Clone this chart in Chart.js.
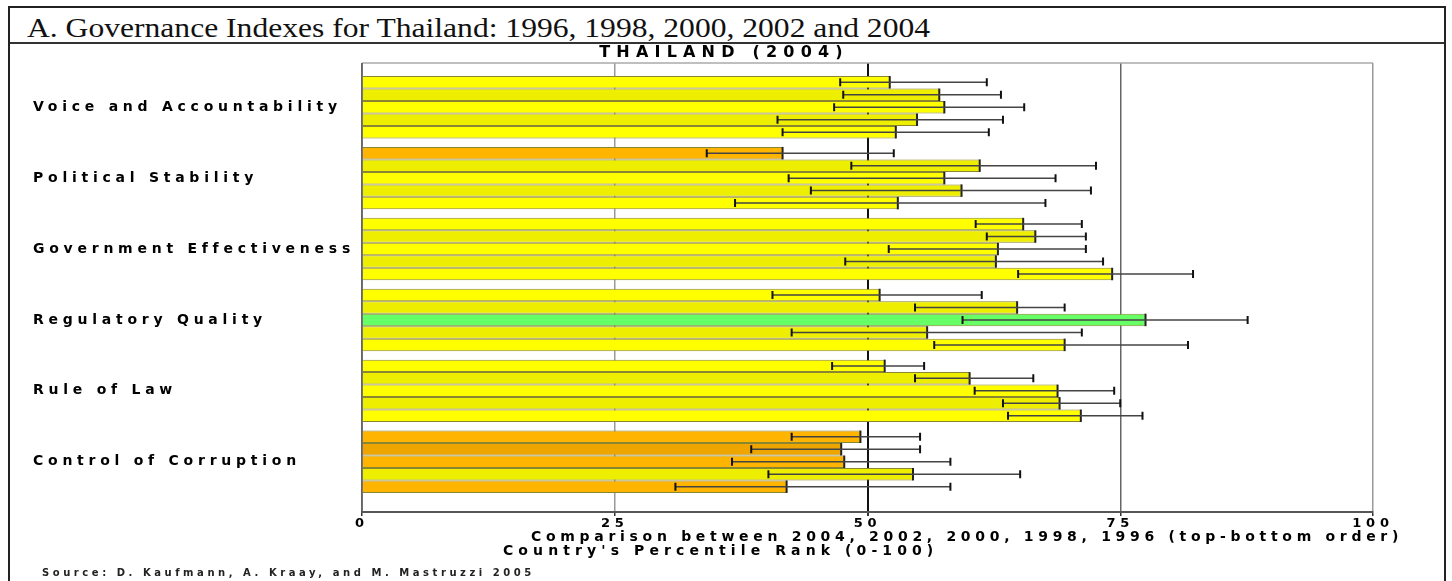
<!DOCTYPE html>
<html>
<head>
<meta charset="utf-8">
<script src="https://cdn.jsdelivr.net/npm/chart.js@4.4.1/dist/chart.umd.min.js"></script>
<style>
  body { margin: 0; background: #fff; width: 1452px; height: 581px; overflow: hidden; position: relative; }
  #frame { position: absolute; left: 8px; top: 6px; width: 1434px; height: 600px;
           border: 2px solid #222; border-bottom: none; }
  #head { position: absolute; left: 0; top: 0; width: 100%; height: 34px; border-bottom: 2px solid #333; }
  #head span { position: absolute; left: 17px; top: 5px; font-family: "Liberation Serif", serif;
               font-size: 27px; line-height: 30px; color: #111; white-space: nowrap;
               transform: scaleX(1.17); transform-origin: 0 0; }
  #myChart { position: absolute; left: 10px; top: 43px; }
</style>
</head>
<body>
<div id="frame"><div id="head"><span>A. Governance Indexes for Thailand: 1996, 1998, 2000, 2002 and 2004</span></div></div>
<canvas id="myChart" width="1432" height="538"></canvas>
<script>
var categories = ["Voice and Accountability", "Political Stability", "Government Effectiveness",
                  "Regulatory Quality", "Rule of Law", "Control of Corruption"];
var years = ["2004", "2002", "2000", "1998", "1996"];
var xTicks = [0, 25, 50, 75, 100];

// percentile rank, per year, one value per category
var rank2004 = [52.2, 41.6, 65.4, 51.2, 51.7, 49.3];
var rank2002 = [57.1, 61.1, 66.6, 64.8, 60.1, 47.4];
var rank2000 = [57.6, 57.6, 62.9, 77.5, 68.8, 47.7];
var rank1998 = [54.9, 59.3, 62.7, 55.9, 69.0, 54.5];
var rank1996 = [52.8, 53.0, 74.2, 69.5, 71.1, 42.0];

// error margins (lower / upper)
var low2004 = [47.3, 34.1, 60.7, 40.6, 46.5, 42.5];
var high2004 = [61.8, 52.6, 71.2, 61.3, 55.6, 55.2];
var low2002 = [47.6, 48.4, 61.8, 54.7, 54.7, 38.5];
var high2002 = [63.2, 72.6, 71.6, 69.5, 66.4, 55.2];
var low2000 = [46.7, 42.2, 52.1, 59.4, 60.6, 36.6];
var high2000 = [65.5, 68.6, 71.6, 87.6, 74.4, 58.2];
var low1998 = [41.1, 44.4, 47.8, 42.5, 63.4, 40.2];
var high1998 = [63.4, 72.1, 73.3, 71.2, 75.0, 65.1];
var low1996 = [41.6, 36.9, 64.9, 56.6, 63.9, 31.0];
var high1996 = [62.0, 67.6, 82.2, 81.7, 77.2, 58.2];

var ranks = [rank2004, rank2002, rank2000, rank1998, rank1996];
var lows = [low2004, low2002, low2000, low1998, low1996];
var highs = [high2004, high2002, high2000, high1998, high1996];

function barColor(v, row) {
    var dark = row % 2 == 1;
    if (v < 50) return dark ? "#eea500" : "#ffb400";
    if (v < 75) return dark ? "#eeee00" : "#ffff00";
    return dark ? "#55ee55" : "#66ff66";
}

var datasets = years.map(function (yr, j) {
    return {
        label: yr,
        data: ranks[j].map(function (v, i) { return {x: v, y: i}; }),
        backgroundColor: ranks[j].map(function (v) { return barColor(v, j); }),
        borderColor: "#8a8530",
        borderWidth: {top: 1, bottom: 1, right: 0, left: 0},
        borderSkipped: false,
        categoryPercentage: 0.88,
        barPercentage: 1.0
    };
});

var labelFont = "'DejaVu Sans', sans-serif";

var spacingPlugin = {
    id: "spacing",
    beforeUpdate: function (chart) { chart.ctx.letterSpacing = "4.75px"; },
    beforeDraw: function (chart) { chart.ctx.letterSpacing = "4.75px"; }
};

var framePlugin = {
    id: "frame",
    beforeDatasetsDraw: function (chart) {
        var a = chart.chartArea, ctx = chart.ctx;
        ctx.save();
        ctx.strokeStyle = "#aaa";
        ctx.lineWidth = 1.5;
        ctx.beginPath();
        ctx.moveTo(a.left, a.top); ctx.lineTo(a.right, a.top);
        ctx.stroke();
        ctx.strokeStyle = "#555";
        ctx.beginPath();
        ctx.moveTo(a.left, a.top); ctx.lineTo(a.left, a.bottom);
        ctx.stroke();
        ctx.restore();
    }
};

var errorPlugin = {
    id: "errorBars",
    afterDatasetsDraw: function (chart) {
        var ctx = chart.ctx, xs = chart.scales.x;
        ctx.save();
        chart.data.datasets.forEach(function (ds, j) {
            chart.getDatasetMeta(j).data.forEach(function (bar, i) {
                var h = bar.height / 2;
                // dark end of the bar
                ctx.strokeStyle = "#222";
                ctx.lineWidth = 2;
                ctx.beginPath();
                ctx.moveTo(bar.x, bar.y - h); ctx.lineTo(bar.x, bar.y + h);
                ctx.stroke();

                var x1 = xs.getPixelForValue(lows[j][i]);
                var x2 = xs.getPixelForValue(highs[j][i]);
                ctx.strokeStyle = "#444";
                ctx.lineWidth = 1.5;
                ctx.beginPath();
                ctx.moveTo(x1, bar.y); ctx.lineTo(x2, bar.y);
                ctx.stroke();
                ctx.strokeStyle = "#111";
                ctx.lineWidth = 2;
                ctx.beginPath();
                ctx.moveTo(x1, bar.y - 4); ctx.lineTo(x1, bar.y + 4);
                ctx.moveTo(x2, bar.y - 4); ctx.lineTo(x2, bar.y + 4);
                ctx.stroke();
            });
        });
        ctx.restore();
    }
};

var textPlugin = {
    id: "notes",
    afterDraw: function (chart) {
        var ctx = chart.ctx;
        ctx.save();
        ctx.fillStyle = "#000";
        ctx.textBaseline = "middle";
        ctx.textAlign = "center";
        ctx.letterSpacing = "6.2px";
        ctx.font = "bold 16px " + labelFont;
        ctx.fillText("THAILAND (2004)", 714, 9.5);

        ctx.textAlign = "left";
        ctx.letterSpacing = "4.7px";
        ctx.font = "bold 14px " + labelFont;
        ctx.fillText("Comparison between 2004, 2002, 2000, 1998, 1996 (top-bottom order)", 521, 494);
        ctx.letterSpacing = "5.1px";
        ctx.fillText("Country's Percentile Rank (0-100)", 493, 508);
        ctx.letterSpacing = "3.55px";
        ctx.font = "bold 10px " + labelFont;
        ctx.fillStyle = "#222";
        ctx.fillText("Source: D. Kaufmann, A. Kraay, and M. Mastruzzi 2005", 32, 530);
        ctx.restore();
    }
};

new Chart("myChart", {
    type: "bar",
    data: { datasets: datasets },
    plugins: [spacingPlugin, framePlugin, errorPlugin, textPlugin],
    options: {
        indexAxis: "y",
        responsive: false,
        animation: false,
        layout: { padding: { left: 23, right: 69, top: 20, bottom: 0 } },
        scales: {
            x: {
                type: "linear",
                min: 0,
                max: 100,
                afterBuildTicks: function (s) { s.ticks = xTicks.map(function (v) { return {value: v}; }); },
                afterFit: function (s) { s.height = 69; },
                ticks: { font: { family: labelFont, size: 13, weight: "bold" }, color: "#000", padding: 0 },
                grid: {
                    color: function (c) {
                        if (c.tick && c.tick.value == 50) return "#111";
                        if (c.tick && c.tick.value == 75) return "#666";
                        return "#999";
                    },
                    lineWidth: function (c) { return (c.tick && c.tick.value == 50) ? 2 : 1.5; },
                    tickColor: "#333",
                    tickLength: 4
                },
                border: { color: "#555", width: 2 }
            },
            y: {
                type: "linear",
                offset: false,
                min: -0.624,
                max: 5.709,
                reverse: true,
                afterBuildTicks: function (s) { s.ticks = categories.map(function (c, i) { return {value: i}; }); },
                afterFit: function (s) { s.width = 329; },
                ticks: {
                    callback: function (v) { return categories[v]; },
                    crossAlign: "far",
                    autoSkip: false,
                    font: { family: labelFont, size: 14, weight: "bold" },
                    color: "#000"
                },
                grid: { display: false, offset: false },
                border: { display: false }
            }
        },
        plugins: {
            legend: { display: false },
            tooltip: { enabled: false },
            title: { display: false }
        }
    }
});
</script>
</body>
</html>
